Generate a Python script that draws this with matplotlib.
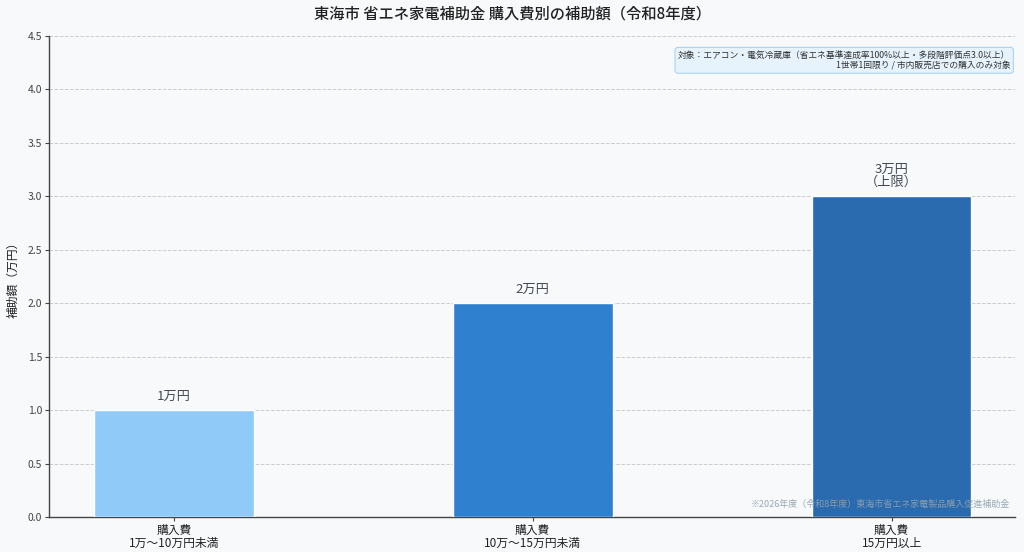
import matplotlib
matplotlib.use("Agg")
import matplotlib.pyplot as plt

plt.rcParams['font.family'] = ['Noto Sans CJK JP', 'DejaVu Sans']

categories = ["購入費\n1万〜10万円未満", "購入費\n10万〜15万円未満", "購入費\n15万円以上"]
values = [1.0, 2.0, 3.0]
bar_labels = ["1万円", "2万円", "3万円\n（上限）"]
colors = ["#90CAF9", "#2F80CF", "#2A6BB0"]
yticks = [0.0, 0.5, 1.0, 1.5, 2.0, 2.5, 3.0, 3.5, 4.0, 4.5]

bg = "#F7F9FB"
fig = plt.figure(figsize=(10.24, 5.52), dpi=100, facecolor=bg)
ax = fig.add_axes([0.0479, 0.0634, 0.943, 0.8714])
ax.set_facecolor(bg)

x = list(range(len(categories)))
bars = ax.bar(x, values, width=0.445, color=colors, edgecolor="white", linewidth=1, zorder=3)
for xi, v, lab in zip(x, values, bar_labels):
    ax.text(xi, v + 0.07, lab, ha="center", va="bottom", fontsize=9.5, color="#444a55",
            linespacing=1.0, zorder=4)

ax.set_xlim(-0.348, 2.343)
ax.set_ylim(0, 4.5)
ax.set_yticks(yticks)
ax.set_yticklabels([f"{t:.1f}" for t in yticks], fontsize=7.5, color="#444444")
ax.set_xticks(x)
ax.set_xticklabels(categories, fontsize=8.5, color="#222222", linespacing=1.0)
ax.grid(axis="y", linestyle="--", color="#cccccc", linewidth=0.7, zorder=0)
ax.set_axisbelow(True)
for s in ["top", "right"]:
    ax.spines[s].set_visible(False)
for s in ["left", "bottom"]:
    ax.spines[s].set_color("#444444")
    ax.spines[s].set_linewidth(1.0)
ax.tick_params(axis="both", length=3, color="#444444", pad=2)
ax.set_ylabel("補助額（万円）", fontsize=8.5, color="#222222", labelpad=6)

fig.text(0.5, 0.975, "東海市 省エネ家電補助金 購入費別の補助額（令和8年度）",
         ha="center", va="center", fontsize=11, color="#222222", fontweight="medium")

ax.text(0.9955, 0.97, "対象：エアコン・電気冷蔵庫（省エネ基準達成率100%以上・多段階評価点3.0以上）\n1世帯1回限り / 市内販売店での購入のみ対象",
        transform=ax.transAxes, ha="right", va="top", fontsize=6.3, color="#333333",
        linespacing=1.25, zorder=5,
        bbox=dict(boxstyle="round,pad=0.35", facecolor="#E6F3FD", edgecolor="#A9D3F5", linewidth=0.8))

ax.text(0.9955, 0.027, "※2026年度（令和8年度）東海市省エネ家電製品購入促進補助金",
        transform=ax.transAxes, ha="right", va="center", fontsize=6.5, color="#90A0AE",
        alpha=0.9, zorder=5)

fig.savefig("out.png", dpi=100, facecolor=bg)
